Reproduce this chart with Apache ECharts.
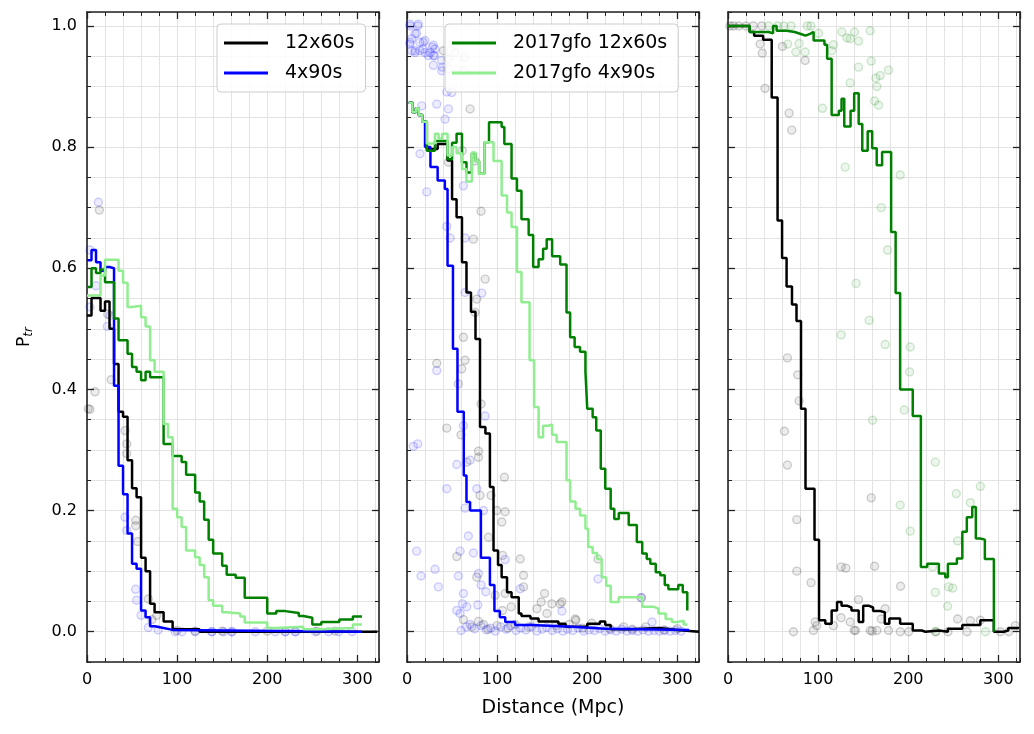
<!DOCTYPE html>
<html>
<head>
<meta charset="utf-8">
<script src="https://cdn.jsdelivr.net/npm/echarts@6.0.0/dist/echarts.min.js"></script>
<style>
  html, body { margin: 0; padding: 0; background: #fff; }
  #chart { width: 1034px; height: 734px; }
</style>
</head>
<body>
<div id="chart"></div>
<script>
// tick labels
var xTicks = [0, 100, 200, 300];
var yTicks = [0, 0.2, 0.4, 0.6, 0.8, 1.0];

// panel 1 step curves [distance, P_tr]
var p1Black = [[0,0.522],[5,0.551],[15,0.53],[20,0.545],[25,0.5],[30,0.442],[35,0.363],[40,0.355],[45,0.283],[50,0.237],[55,0.222],[60,0.122],[65,0.10],[70,0.046],[75,0.032],[85,0.017],[95,0.004],[125,0.0],[322,0]];
var p1Blue = [[0,0.613],[5,0.63],[10,0.61],[15,0.596],[20,0.602],[25,0.6],[30,0.406],[35,0.274],[40,0.227],[45,0.162],[50,0.112],[55,0.104],[60,0.035],[65,0.024],[70,0.009],[75,0.006],[85,0.003],[95,0],[305,0]];
var p1Green = [[0,0.569],[5,0.6],[10,0.592],[15,0.598],[20,0.577],[30,0.517],[35,0.481],[45,0.459],[50,0.437],[55,0.429],[60,0.415],[65,0.429],[70,0.42],[85,0.31],[95,0.29],[105,0.28],[110,0.259],[120,0.23],[125,0.215],[130,0.185],[135,0.152],[140,0.129],[150,0.109],[155,0.094],[165,0.089],[175,0.056],[200,0.03],[210,0.034],[220,0.031],[235,0.026],[240,0.023],[250,0.012],[260,0.016],[280,0.02],[295,0.025],[305,0.025]];
var p1Light = [[0,0.555],[15,0.588],[20,0.614],[35,0.596],[40,0.576],[45,0.536],[50,0.538],[60,0.519],[65,0.504],[70,0.448],[75,0.429],[85,0.343],[90,0.321],[95,0.203],[100,0.189],[105,0.173],[110,0.134],[120,0.123],[125,0.11],[130,0.09],[135,0.052],[140,0.043],[150,0.032],[155,0.03],[170,0.025],[175,0.015],[200,0.006],[210,0.008],[240,0.004],[260,0.006],[295,0.012],[305,0.012]];

// panel 2 step curves
var p2Black = [[2,0.873],[6,0.858],[10,0.864],[13,0.853],[17,0.842],[22,0.797],[34,0.805],[45,0.778],[50,0.714],[55,0.684],[61,0.61],[66,0.56],[71,0.528],[76,0.483],[81,0.338],[87,0.327],[92,0.239],[96,0.134],[101,0.11],[105,0.09],[111,0.065],[116,0.057],[124,0.03],[127,0.026],[137,0.022],[146,0.017],[168,0.013],[176,0.008],[200,0.013],[214,0.017],[220,0.011],[226,0.004],[248,0.006],[280,0.003],[300,0],[324,0]];
var p2Blue = [[2,0.873],[6,0.858],[10,0.864],[13,0.853],[17,0.842],[20,0.80],[26,0.767],[34,0.745],[42,0.731],[45,0.604],[51,0.467],[56,0.363],[63,0.258],[66,0.214],[70,0.2],[82,0.122],[92,0.077],[97,0.034],[103,0.024],[109,0.016],[120,0.011],[138,0.008],[183,0.005],[220,0.003],[313,0.003]];
var p2Green = [[2,0.873],[6,0.858],[10,0.864],[13,0.853],[17,0.842],[22,0.794],[31,0.81],[39,0.81],[45,0.78],[50,0.807],[55,0.822],[61,0.775],[66,0.758],[72,0.79],[76,0.777],[80,0.756],[86,0.808],[91,0.841],[105,0.833],[108,0.805],[116,0.748],[122,0.728],[127,0.681],[135,0.655],[140,0.602],[146,0.615],[151,0.632],[155,0.648],[161,0.62],[170,0.606],[177,0.527],[181,0.486],[186,0.47],[192,0.462],[198,0.429],[200,0.368],[206,0.354],[210,0.332],[215,0.269],[220,0.236],[226,0.203],[230,0.186],[235,0.196],[246,0.176],[255,0.148],[261,0.129],[266,0.12],[270,0.112],[276,0.098],[281,0.093],[286,0.077],[290,0.07],[301,0.077],[306,0.065],[311,0.035]];
var p2Light = [[2,0.873],[6,0.858],[10,0.864],[13,0.853],[17,0.842],[22,0.806],[31,0.822],[35,0.814],[39,0.822],[45,0.786],[50,0.8],[55,0.79],[61,0.764],[66,0.743],[72,0.791],[76,0.777],[80,0.756],[86,0.808],[96,0.777],[105,0.72],[111,0.692],[116,0.668],[122,0.594],[127,0.544],[136,0.448],[141,0.371],[146,0.321],[151,0.34],[157,0.342],[161,0.325],[166,0.313],[177,0.25],[181,0.215],[187,0.203],[192,0.192],[198,0.17],[201,0.14],[206,0.13],[211,0.12],[216,0.09],[221,0.076],[226,0.049],[235,0.057],[261,0.041],[274,0.038],[279,0.03],[287,0.021],[294,0.016],[300,0.018],[307,0.012],[311,0.012]];

// panel 3 step curves
var p3Black = [[0,1.0],[24,0.99],[29,0.984],[39,0.977],[48.5,0.882],[55,0.679],[60,0.617],[65,0.57],[71,0.54],[76,0.513],[81,0.368],[86,0.236],[96,0.152],[101,0.019],[108,0.013],[115,0.035],[121,0.049],[126,0.043],[132,0.04],[137,0.035],[145,0.016],[150,0.043],[156,0.04],[161,0.034],[169,0.032],[174,0.013],[179,0.022],[191,0.013],[205,0.002],[215,0],[219,0.002],[234,0],[244,0.005],[260,0.011],[280,0.019],[295,0],[306,0.002],[311,0.006],[323,0.006]];
var p3Green = [[0,1.0],[19,1.0],[24,0.99],[45,0.988],[50,1.0],[54,0.992],[65,0.99],[74,0.987],[80,0.984],[86,0.987],[91,0.99],[95,0.976],[107,0.969],[110,0.946],[115,0.853],[123,0.86],[126,0.88],[129,0.834],[136,0.86],[140,0.889],[145,0.838],[149,0.794],[155,0.826],[160,0.798],[165,0.77],[171,0.792],[181,0.66],[186,0.559],[191,0.4],[205,0.356],[214,0.107],[221,0.112],[234,0.096],[241,0.09],[244,0.112],[254,0.121],[260,0.165],[265,0.189],[271,0.206],[275,0.154],[280,0.152],[285,0.12],[295,0.0]];

// individual events (faint dots)
var p1GrayDots = [[1.3,0.368],[3.3,0.367],[8.9,0.396],[13.7,0.696],[23,0.524],[26.7,0.416],[42.2,0.332],[44.1,0.31],[44,0.294],[54,0.184],[54,0.175],[56.3,0.149],[68,0.054],[77.4,0.027],[72,0.02],[100,0.002],[120,0.001],[150,0.001],[200,0.001],[255,0.001],[275,0.001]];
var p1BlueDots = [[3.3,0.63],[3.3,0.536],[10,0.571],[12.6,0.709],[22.6,0.504],[25.6,0.522],[42.2,0.189],[44,0.167],[54,0.07],[55,0.052],[60,0.027],[68,0.007],[79,0.003],[97.8,0],[105.2,0],[120,0],[138.5,0],[151.5,0],[160.7,0],[186.7,0],[208.9,0],[220,0],[231.1,0],[253.3,0],[268.1,0],[279.3,0],[294.1,0],[138.5,0],[160.7,0],[220,0],[231.1,0]];

var p2BlueDots = [[3.3,1.003],[12.6,1.003],[3.3,1.0],[11.9,1.0],[10.7,0.988],[8.9,0.987],[5.2,0.979],[20,0.976],[3.3,0.973],[3.3,0.97],[14.1,0.973],[18.1,0.973],[18,0.962],[29.3,0.968],[28.1,0.965],[31.1,0.962],[8.9,0.959],[5.2,0.959],[14.4,0.959],[8.9,0.956],[20,0.956],[25.6,0.956],[29.3,0.951],[30.4,0.951],[23.7,0.951],[38.5,0.943],[29.3,0.935],[39.3,0.932],[38.5,0.926],[44.1,0.891],[49.6,0.89],[33,0.871],[16.3,0.868],[45.9,0.863],[42.2,0.846],[14.4,0.789],[21.9,0.726],[62.6,0.736],[44.1,0.669],[47.8,0.65],[64.4,0.65],[64.4,0.56],[82.9,0.559],[33,0.431],[86.7,0.356],[62.6,0.34],[7,0.306],[11.9,0.31],[70,0.283],[55.2,0.276],[44.1,0.236],[77.4,0.236],[84.8,0.2],[64.4,0.204],[68.1,0.158],[10.7,0.133],[58.9,0.133],[73.7,0.13],[108.9,0.119],[31.1,0.103],[15.6,0.092],[57,0.092],[79.3,0.096],[34.8,0.074],[82.2,0.077],[87.4,0.066],[125.6,0.071],[62.6,0.063],[61.5,0.046],[66.3,0.041],[78.5,0.044],[55.2,0.035],[58.9,0.03],[171.9,0.034],[211.9,0.087],[260,0.056],[271.9,0.016],[60,0.002],[66,0.008],[70,0.012],[75,0.005],[82,0.01],[88,0.003],[93,0.006],[98,0.001],[104,0.008],[110,0.004],[115,0.01],[121,0.002],[126,0.006],[132,0.003],[138,0.008],[144,0.001],[150,0.004],[155,0.007],[161,0.002],[167,0.005],[173,0.001],[178,0.004],[184,0.002],[190,0.006],[196,0.001],[202,0.003],[208,0.002],[214,0.005],[220,0.001],[226,0.003],[232,0.001],[238,0.004],[244,0.001],[250,0.002],[256,0.001],[262,0.003],[268,0.001],[274,0.002],[280,0.001],[286,0.002],[292,0.001],[298,0.002],[304,0.001]];
var p2GrayDots = [[40.4,0.959],[45.9,0.945],[45.9,0.929],[53.3,0.956],[63.7,0.948],[62.6,0.926],[70,0.863],[61.5,0.794],[45.9,0.775],[75.6,0.777],[82.2,0.694],[73.7,0.648],[86.7,0.582],[77.4,0.549],[75.6,0.527],[62.6,0.486],[33,0.443],[64.4,0.448],[60.7,0.434],[57,0.409],[82.2,0.376],[44.1,0.336],[60,0.325],[79.3,0.298],[79.3,0.288],[66.3,0.28],[108.1,0.255],[81.1,0.225],[93.3,0.225],[99.6,0.2],[108.9,0.198],[105.2,0.181],[90.4,0.156],[55.2,0.124],[106,0.126],[125.6,0.12],[77.4,0.09],[129.3,0.093],[108.9,0.063],[129.3,0.074],[152.6,0.063],[97.8,0.06],[106,0.035],[115.6,0.041],[148.9,0.049],[160.7,0.046],[170,0.046],[144.1,0.038],[155.2,0.03],[187.4,0.019],[211.9,0.12],[171.9,0.049],[186.7,0.021],[240.4,0.008],[260,0.056],[62.6,0.02],[71.9,0.008],[79.3,0.017],[84.8,0.012],[90,0.004],[100,0.01],[112,0.006],[120,0.012],[135,0.008],[142,0.015],[165,0.01],[180,0.012],[195,0.006],[205,0.014],[225,0.005],[250,0.004],[265,0.008],[285,0.003],[300,0.005]];

var p3GrayDots = [[2,1.0],[6,1.0],[12,1.0],[20,1.0],[28,1.0],[37.4,1.0],[35.6,0.97],[38.1,0.955],[60.4,0.966],[85.6,0.943],[41.1,0.897],[67.8,0.856],[70.7,0.828],[65.9,0.452],[77.4,0.424],[78.9,0.381],[62.6,0.331],[65.9,0.275],[158.9,0.221],[76.3,0.185],[76.3,0.1],[125.6,0.107],[130.7,0.105],[162.6,0.108],[92.2,0.081],[191.5,0.075],[144.8,0.053],[174.4,0.038],[125.6,0.023],[135.6,0.016],[117,0.01],[254.8,0.021],[268.9,0.018],[280,0.019],[170,0.021],[96.7,0.016],[98.5,0.01],[94.8,0.002],[72.6,0],[140,0.002],[141.5,0.002],[157.8,0.002],[160,0.001],[165.2,0.002],[178.1,0.002],[191.1,0],[200.4,0],[230.7,0],[244.1,0],[265.2,0],[302.2,0],[311.5,0],[318.9,0.01]];
var p3GreenDots = [[45,1.0],[55,1.0],[62,1.0],[70,1.0],[88,1.0],[92,1.0],[126.3,0.99],[140.4,0.99],[157.8,0.992],[131.9,0.98],[135.6,0.979],[144.8,0.975],[117,0.969],[115.2,0.959],[100.4,0.988],[66.3,0.97],[78.9,0.971],[75.2,0.957],[85.6,0.957],[158.9,0.942],[144.8,0.932],[178.1,0.927],[164.1,0.914],[168.9,0.918],[135.6,0.906],[165.2,0.9],[162.6,0.876],[167,0.869],[104.8,0.864],[130,0.767],[191.1,0.754],[170,0.7],[177,0.63],[142.2,0.575],[156.7,0.514],[125.6,0.49],[174.4,0.474],[202.2,0.47],[201.5,0.429],[195.6,0.366],[160.4,0.349],[230,0.28],[253.3,0.228],[280,0.24],[268.9,0.213],[191.1,0.209],[202.2,0.166],[254.8,0.15],[227,0.107],[244.8,0.074],[249.3,0.072],[230,0.065],[243.7,0.042],[230,0],[285.6,0]];

var XMAX = 324, YMIN = -0.05, YMAX = 1.023;
var FONT = "DejaVu Sans";
var FRAME = "#222222";
var GRIDLINE = "#e3e3e3";
var gridLefts = [87, 407, 728];

function xAxes(i) {
  var list = [];
  ["bottom", "top"].forEach(function (pos) {
    list.push({
      type: "value", gridIndex: i, position: pos, min: 0, max: XMAX, interval: 100,
      axisLine: { show: true, onZero: false, lineStyle: { color: FRAME, width: 1.6 } },
      axisTick: { show: true, inside: true, length: 7, lineStyle: { color: FRAME, width: 1.3 } },
      axisLabel: {
        show: pos === "bottom", showMaxLabel: false, margin: 10,
        color: "#000", fontSize: 16, fontFamily: FONT,
        formatter: function (v) { return xTicks.indexOf(v) >= 0 ? String(v) : ""; }
      },
      splitLine: { show: false }
    });
    list.push({
      type: "value", gridIndex: i, position: pos, min: 0, max: XMAX, interval: 20,
      axisLine: { show: false, onZero: false },
      axisTick: { show: true, inside: true, length: 4, lineStyle: { color: FRAME, width: 1 } },
      axisLabel: { show: false },
      splitLine: { show: true, lineStyle: { color: GRIDLINE, width: 1 } }
    });
  });
  return list;
}

function yAxes(i) {
  var list = [];
  ["left", "right"].forEach(function (pos) {
    var major = {
      type: "value", gridIndex: i, position: pos, min: YMIN, max: YMAX,
      axisLine: { show: true, onZero: false, lineStyle: { color: FRAME, width: 1.6 } },
      axisTick: { show: true, inside: true, length: 7, customValues: yTicks, lineStyle: { color: FRAME, width: 1.3 } },
      axisLabel: {
        show: pos === "left" && i === 0, customValues: yTicks, margin: 10,
        color: "#000", fontSize: 16, fontFamily: FONT,
        formatter: function (v) { return v.toFixed(1); }
      },
      splitLine: { show: false }
    };
    if (pos === "left" && i === 0) {
      major.name = "{p|P}{s|tr}";
      major.nameLocation = "middle";
      major.nameGap = 52;
      major.nameRotate = 90;
      major.nameTextStyle = {
        color: "#000", fontFamily: FONT,
        rich: {
          p: { fontSize: 17, fontFamily: FONT, color: "#000" },
          s: { fontSize: 12, fontFamily: FONT, fontStyle: "italic", color: "#000", padding: [8, 0, 0, 0] }
        }
      };
    }
    list.push(major);
    list.push({
      type: "value", gridIndex: i, position: pos, min: YMIN, max: YMAX, interval: 0.05,
      axisLine: { show: false, onZero: false },
      axisTick: { show: true, inside: true, length: 4, lineStyle: { color: FRAME, width: 1 } },
      axisLabel: { show: false },
      splitLine: { show: true, lineStyle: { color: GRIDLINE, width: 1 } }
    });
  });
  return list;
}

function stepLine(name, data, i, color, z) {
  return {
    name: name, type: "line", step: "end", data: data,
    xAxisIndex: 4 * i, yAxisIndex: 4 * i,
    symbol: "none", color: color,
    lineStyle: { color: color, width: 2.5 },
    z: z
  };
}

function dots(data, i, rgb) {
  return {
    type: "scatter", data: data,
    xAxisIndex: 4 * i, yAxisIndex: 4 * i,
    symbolSize: 8, silent: true,
    itemStyle: { color: "rgba(" + rgb + ",0.09)", borderColor: "rgba(" + rgb + ",0.22)", borderWidth: 1.4 },
    z: 1
  };
}

var grids = [], xs = [], ys = [];
for (var i = 0; i < 3; i++) {
  grids.push({ left: gridLefts[i], top: 12, width: 292, height: 650, containLabel: false });
  xs = xs.concat(xAxes(i));
  ys = ys.concat(yAxes(i));
}
// shared x label under the middle panel
xs[4].name = "Distance (Mpc)";
xs[4].nameLocation = "middle";
xs[4].nameGap = 37;
xs[4].nameTextStyle = { color: "#000", fontSize: 19, fontFamily: FONT };

var legendBase = {
  orient: "vertical", top: 24, selectedMode: false,
  icon: "rect", itemWidth: 44, itemHeight: 3, itemGap: 10,
  padding: [9, 11, 9, 7],
  backgroundColor: "rgba(255,255,255,0.85)",
  borderColor: "#cccccc", borderWidth: 1, borderRadius: 4,
  textStyle: { color: "#000", fontSize: 19, fontFamily: FONT, lineHeight: 20, padding: [0, 0, 0, 12] }
};

var option = {
  animation: false,
  backgroundColor: "#ffffff",
  grid: grids,
  xAxis: xs,
  yAxis: ys,
  legend: [
    Object.assign({}, legendBase, { left: 217, data: ["12x60s", "4x90s"] }),
    Object.assign({}, legendBase, { left: 445, data: ["2017gfo 12x60s", "2017gfo 4x90s"] })
  ],
  series: [
    dots(p1GrayDots, 0, "0,0,0"),
    dots(p1BlueDots, 0, "0,0,255"),
    stepLine("12x60s", p1Black, 0, "#000000", 3),
    stepLine("4x90s", p1Blue, 0, "#0000ff", 4),
    stepLine("2017gfo 12x60s", p1Green, 0, "#008000", 5),
    stepLine("2017gfo 4x90s", p1Light, 0, "#90ee90", 6),

    dots(p2GrayDots, 1, "0,0,0"),
    dots(p2BlueDots, 1, "0,0,255"),
    stepLine("12x60s", p2Black, 1, "#000000", 3),
    stepLine("4x90s", p2Blue, 1, "#0000ff", 4),
    stepLine("2017gfo 12x60s", p2Green, 1, "#008000", 5),
    stepLine("2017gfo 4x90s", p2Light, 1, "#90ee90", 6),

    dots(p3GrayDots, 2, "0,0,0"),
    dots(p3GreenDots, 2, "0,128,0"),
    stepLine("12x60s", p3Black, 2, "#000000", 3),
    stepLine("2017gfo 12x60s", p3Green, 2, "#008000", 5)
  ]
};

var chart = echarts.init(document.getElementById("chart"));
chart.setOption(option);
</script>
</body>
</html>
